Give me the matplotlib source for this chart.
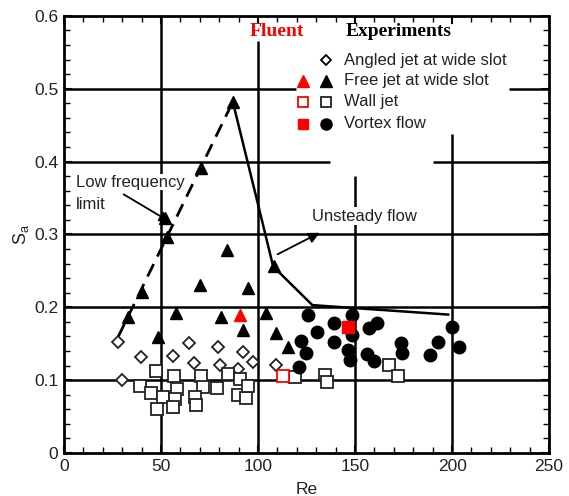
import matplotlib
matplotlib.use('Agg')
import matplotlib.pyplot as plt
from matplotlib.ticker import MultipleLocator, FormatStrFormatter

plt.rcParams['font.family'] = ['Liberation Sans', 'DejaVu Sans']
plt.rcParams['mathtext.default'] = 'regular'

# experiments: angled jet at wide slot (open diamonds)
angled_re = [27.7, 39.9, 30, 56, 64.2, 67.2, 79.4, 80.4, 92, 89.7, 97.6, 109]
angled_sa = [0.152, 0.132, 0.100, 0.133, 0.151, 0.123, 0.146, 0.121, 0.139, 0.115, 0.125, 0.121]

# experiments: free jet at wide slot (filled triangles)
free_re = [87, 70.8, 52, 53, 84, 40, 70, 95, 108, 33, 57.6, 81, 104, 92, 48.5, 109, 115.5]
free_sa = [0.482, 0.391, 0.323, 0.296, 0.279, 0.221, 0.230, 0.227, 0.256, 0.187,
           0.192, 0.187, 0.192, 0.169, 0.159, 0.165, 0.146]

# experiments: wall jet (open squares)
wall_re = [47.5, 56.6, 70.4, 84.5, 90.5, 39.4, 45, 51, 58, 57, 48, 56, 71.5, 79, 67.7,
           68, 89.5, 93.6, 94.6, 119, 134.6, 135.6, 167.6, 172]
wall_sa = [0.112, 0.106, 0.106, 0.108, 0.101, 0.092, 0.082, 0.077, 0.088, 0.074, 0.061,
           0.063, 0.090, 0.089, 0.077, 0.066, 0.079, 0.075, 0.092, 0.104, 0.107, 0.097,
           0.121, 0.106]

# experiments: vortex flow (filled circles)
vortex_re = [125.5, 148.3, 139, 130.6, 122, 124.5, 121, 139, 146.3, 147.3, 148.3, 157,
             161.5, 156, 160, 173.8, 174.2, 188.5, 193, 200, 203.7]
vortex_sa = [0.190, 0.190, 0.179, 0.166, 0.154, 0.137, 0.118, 0.152, 0.141, 0.128, 0.162,
             0.172, 0.179, 0.136, 0.126, 0.151, 0.137, 0.134, 0.152, 0.173, 0.145]

# Fluent results
fluent_free = (90.5, 0.190)
fluent_wall = (113, 0.106)
fluent_vortex = (146.3, 0.173)

# boundaries
low_re = [28, 87]
low_sa = [0.16, 0.482]
unsteady_re = [87, 100.2, 107.8, 128, 149.3, 198]
unsteady_sa = [0.482, 0.339, 0.256, 0.203, 0.199, 0.19]

RED = '#ff0000'

fig = plt.figure(figsize=(5.69, 4.96), dpi=100)
ax = fig.add_axes([0.1125, 0.0867, 0.8525, 0.8813])
ax.set_xlim(0, 250)
ax.set_ylim(0, 0.6)

# grid drawn as segments (legend and labels leave gaps)
glw = 1.8
ax.hlines([0.1, 0.2, 0.3], 0, 250, color='black', lw=glw, zorder=1)
ax.hlines(0.4, 0, 137, color='black', lw=glw, zorder=1)
ax.hlines(0.4, 190, 250, color='black', lw=glw, zorder=1)
ax.hlines(0.5, 0, 119.5, color='black', lw=glw, zorder=1)
ax.hlines(0.5, 229.5, 250, color='black', lw=glw, zorder=1)
ax.vlines(50, 0, 0.6, color='black', lw=glw, zorder=1)
ax.vlines(100, 0, 0.565, color='black', lw=glw, zorder=1)
ax.vlines(150, 0, 0.38, color='black', lw=glw, zorder=1)
ax.vlines(200, 0, 0.438, color='black', lw=glw, zorder=1)

# boundary lines
ax.plot(low_re, low_sa, color='black', lw=2, ls=(0, (5, 3)), zorder=2)
ax.plot(unsteady_re, unsteady_sa, color='black', lw=1.8, zorder=2)

# experimental points
ax.plot(angled_re, angled_sa, ls='none', marker='D', ms=6, mfc='white', mec='#222222',
        mew=1.3, zorder=3)
ax.plot(free_re, free_sa, ls='none', marker='^', ms=9, color='black', zorder=3)
ax.plot(wall_re, wall_sa, ls='none', marker='s', ms=8, mfc='white', mec='#222222',
        mew=1.3, zorder=3)
ax.plot(vortex_re, vortex_sa, ls='none', marker='o', ms=9, color='black', zorder=3)

# Fluent points
ax.plot(*fluent_free, ls='none', marker='^', ms=9, color=RED, zorder=4)
ax.plot(*fluent_wall, ls='none', marker='s', ms=8, mfc='white', mec=RED, mew=1.3, zorder=4)
ax.plot(*fluent_vortex, ls='none', marker='s', ms=8, color=RED, zorder=4)

# annotations
ax.text(6, 0.382, 'Low frequency', fontsize=12, color='#222222', va='top', ha='left',
        bbox=dict(facecolor='white', edgecolor='none', pad=0.5), zorder=2)
ax.text(6, 0.352, 'limit', fontsize=12, color='#222222', va='top', ha='left', zorder=2)
ax.annotate('', xy=(56, 0.315), xytext=(29.5, 0.357),
            arrowprops=dict(arrowstyle='-|>', color='black', lw=1.3, mutation_scale=16))
ax.text(155, 0.325, 'Unsteady flow', fontsize=12, color='#222222', va='center',
        ha='center', bbox=dict(facecolor='white', edgecolor='none', pad=1), zorder=2)
ax.annotate('', xy=(133, 0.304), xytext=(108.8, 0.271),
            arrowprops=dict(arrowstyle='-|>', color='black', lw=1.3, mutation_scale=16))

# hand-made legend
serif = ['Liberation Serif', 'DejaVu Serif']
ax.text(109.5, 0.579, 'Fluent', color=RED, fontsize=14, fontweight='bold', family=serif,
        ha='center', va='center')
ax.text(172.5, 0.579, 'Experiments', color='black', fontsize=14, fontweight='bold',
        family=serif, ha='center', va='center')
rows = [0.539, 0.511, 0.482, 0.452]
labels = ['Angled jet at wide slot', 'Free jet at wide slot', 'Wall jet', 'Vortex flow']
mx_red, mx_blk, tx = 123, 135, 144.3
ax.plot(mx_blk, rows[0], marker='D', ms=5, mfc='white', mec='black', mew=1.3, ls='none')
ax.plot(mx_blk, rows[1], marker='^', ms=8, color='black', ls='none')
ax.plot(mx_blk, rows[2], marker='s', ms=7.5, mfc='white', mec='#222222', mew=1.3, ls='none')
ax.plot(mx_blk, rows[3], marker='o', ms=8, color='black', ls='none')
ax.plot(mx_red, rows[1], marker='^', ms=8, color=RED, ls='none')
ax.plot(mx_red, rows[2], marker='s', ms=7.5, mfc='white', mec=RED, mew=1.3, ls='none')
ax.plot(mx_red, rows[3], marker='s', ms=7.5, color=RED, ls='none')
for yy, lab in zip(rows, labels):
    ax.text(tx, yy, lab, fontsize=12, color='#222222', va='center', ha='left')

# axes styling
for sp in ax.spines.values():
    sp.set_linewidth(2)
ax.xaxis.set_major_locator(MultipleLocator(50))
ax.xaxis.set_minor_locator(MultipleLocator(10))
ax.yaxis.set_major_locator(MultipleLocator(0.1))
ax.yaxis.set_minor_locator(MultipleLocator(0.02))
ax.xaxis.set_major_formatter(FormatStrFormatter('%g'))
ax.yaxis.set_major_formatter(FormatStrFormatter('%g'))
ax.tick_params(which='both', direction='in', top=True, right=True, labelsize=12.5,
               colors='black', labelcolor='#222222')
ax.tick_params(which='major', length=6, width=1.5, pad=4)
ax.tick_params(which='minor', length=4, width=1)
ax.set_xlabel('Re', fontsize=12.5, color='#222222', labelpad=6)
ax.set_ylabel('S$_{a}$', fontsize=13, color='#222222', labelpad=2)

fig.savefig('out.png', dpi=100)
